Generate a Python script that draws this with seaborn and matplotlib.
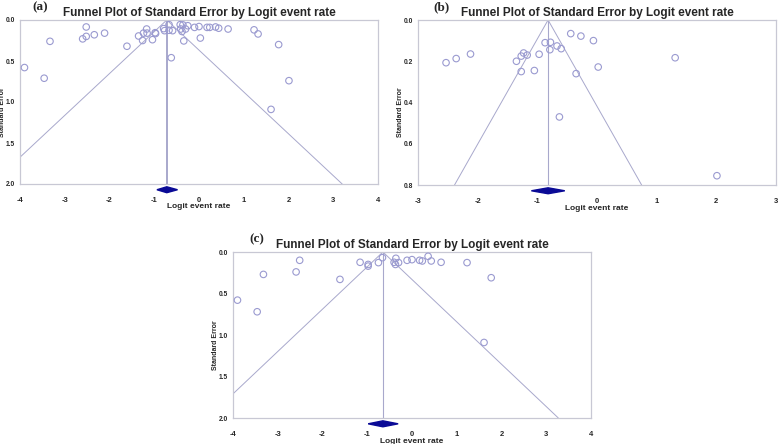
import matplotlib
matplotlib.use("Agg")
import matplotlib.pyplot as plt
import seaborn as sns
import pandas as pd

sns.set_theme(style="white")
plt.rcParams['font.family'] = ['Liberation Sans', 'DejaVu Sans']
plt.rcParams['axes.unicode_minus'] = False

# Panel (a): logit event rate, standard error
a_x = [-3.90, -3.46, -3.33, -2.52, -2.60, -2.52, -2.34, -2.11, -1.61, -1.35,
       -1.26, -1.24, -1.17, -1.16, -1.04, -0.98, -0.97, -0.79, -0.77, -0.67,
       -0.67, -0.62, -0.59, -0.42, -0.36, -0.41, -0.38, -0.34, -0.30, -0.25,
       -0.10, 0.00, 0.03, 0.18, 0.24, 0.37, 0.44, 0.65, 1.23, 1.32, 1.78,
       2.01, 1.61]
a_se = [0.58, 0.71, 0.26, 0.085, 0.23, 0.20, 0.18, 0.16, 0.32, 0.195,
        0.25, 0.16, 0.11, 0.16, 0.24, 0.155, 0.165, 0.105, 0.13, 0.057,
        0.125, 0.46, 0.13, 0.057, 0.06, 0.11, 0.14, 0.255, 0.11, 0.07,
        0.09, 0.08, 0.22, 0.09, 0.09, 0.085, 0.10, 0.11, 0.12, 0.17, 0.30,
        0.74, 1.09]
a_mean, a_lo, a_hi = -0.72, -0.94, -0.48

# Panel (b)
b_x = [-2.53, -2.36, -2.12, -1.35, -1.27, -1.23, -1.17, -1.27, -1.05, -0.97,
       -0.87, -0.78, -0.79, -0.67, -0.60, -0.44, -0.27, -0.06, 0.02, -0.35,
       -0.63, 1.31, 2.01]
b_se = [0.207, 0.187, 0.165, 0.20, 0.175, 0.16, 0.17, 0.25, 0.245, 0.166,
        0.11, 0.108, 0.144, 0.126, 0.139, 0.066, 0.078, 0.10, 0.228, 0.26,
        0.47, 0.183, 0.755]
b_mean, b_lo, b_hi = -0.82, -1.10, -0.54

# Panel (c)
c_x = [-3.90, -3.46, -3.32, -2.51, -2.59, -1.61, -1.16, -0.98, -0.98, -0.75,
       -0.66, -0.40, -0.36, -0.37, -0.30, -0.11, 0.00, 0.17, 0.23, 0.36,
       0.43, 0.65, 1.23, 1.77, 1.61]
c_se = [0.58, 0.72, 0.27, 0.10, 0.24, 0.33, 0.124, 0.15, 0.17, 0.128,
        0.068, 0.124, 0.076, 0.15, 0.128, 0.10, 0.092, 0.10, 0.108, 0.052,
        0.108, 0.124, 0.128, 0.31, 1.09]
c_mean, c_lo, c_hi = -0.65, -0.98, -0.31

title = "Funnel Plot of Standard Error by Logit event rate"
pt_col = "#9a9ad0"
line_col = "#a8a8cc"
spine_col = "#c8c8d4"
dia_col = "#0a0a96"


def funnel(ax, xs, ses, mean, lo, hi, xlim, ymax, yticks, label, lab_x, vlw):
    df = pd.DataFrame({"x": xs, "se": ses})
    sns.scatterplot(data=df, x="x", y="se", ax=ax, marker="o", s=22,
                    facecolors="none", edgecolor=pt_col, linewidth=0.8,
                    legend=False, zorder=3)
    ax.plot([mean - 1.96 * ymax, mean, mean + 1.96 * ymax], [ymax, 0, ymax],
            color=line_col, lw=0.7, zorder=2)
    ax.plot([mean, mean], [0, ymax], color=line_col, lw=vlw, zorder=2)
    yd = ymax * 1.035
    h = ymax * 0.018
    ax.fill([lo, mean, hi, mean], [yd, yd - h, yd, yd + h], color=dia_col,
            clip_on=False, zorder=4)
    ax.set_xlim(*xlim)
    ax.set_ylim(ymax, 0)
    ax.set_xticks(range(xlim[0], xlim[1] + 1))
    ax.set_yticks(yticks)
    ax.set_yticklabels([f"{v:.1f}" for v in yticks])
    for s in ax.spines.values():
        s.set_color(spine_col)
        s.set_linewidth(0.9)
    ax.tick_params(axis="x", direction="out", length=2, width=0.6,
                   color=spine_col, pad=7, labelsize=5.5)
    ax.tick_params(axis="y", direction="out", length=0, pad=3.5, labelsize=4.8)
    for t in ax.get_xticklabels() + ax.get_yticklabels():
        t.set_fontweight("bold")
    ax.set_xlabel("Logit event rate", fontsize=6, fontweight="bold", labelpad=0)
    ax.set_ylabel("Standard Error", fontsize=5, fontweight="bold")
    ax.yaxis.set_label_coords(-0.04, 0.44)
    ax.set_title(title, fontsize=8.5, fontweight="bold", pad=3)
    ax.text(lab_x, 1.04, label, transform=ax.transAxes, fontsize=9.5,
            fontweight="bold", family=["Liberation Serif", "DejaVu Serif"],
            ha="left", va="bottom")


fig = plt.figure(figsize=(7.78, 4.44), dpi=100)
ax1 = fig.add_axes([20 / 778, 1 - 184 / 444, 358 / 778, 164 / 444])
ax2 = fig.add_axes([418 / 778, 1 - 185 / 444, 358 / 778, 165 / 444])
ax3 = fig.add_axes([233 / 778, 1 - 418 / 444, 358 / 778, 166 / 444])

funnel(ax1, a_x, a_se, a_mean, a_lo, a_hi, (-4, 4), 2.0,
       [0.0, 0.5, 1.0, 1.5, 2.0], "(a)", 0.034, 1.4)
funnel(ax2, b_x, b_se, b_mean, b_lo, b_hi, (-3, 3), 0.8,
       [0.0, 0.2, 0.4, 0.6, 0.8], "(b)", 0.042, 0.8)
funnel(ax3, c_x, c_se, c_mean, c_lo, c_hi, (-4, 4), 2.0,
       [0.0, 0.5, 1.0, 1.5, 2.0], "(c)", 0.045, 0.8)

fig.savefig("out.png", dpi=100)
